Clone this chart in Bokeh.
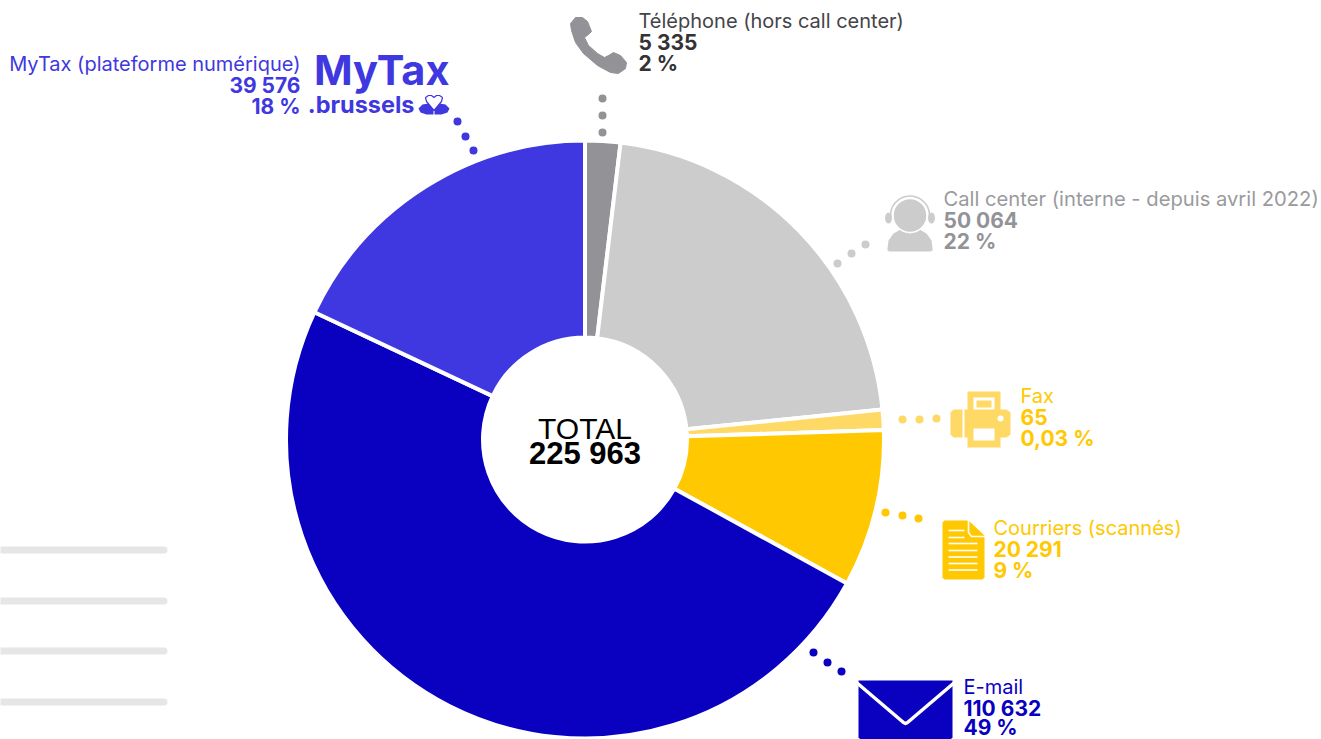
from math import pi
from bokeh.plotting import figure
from bokeh.models import Range1d, ColumnDataSource
from bokeh.core.properties import value
from bokeh.embed import file_html
from bokeh.resources import INLINE

# ---- data ----
categories = ["Téléphone (hors call center)", "Call center (interne - depuis avril 2022)", "Fax",
              "Courriers (scannés)", "E-mail", "MyTax (plateforme numérique)"]
count_labels = ["5 335", "50 064", "65", "20 291", "110 632", "39 576"]
pct_labels = ["2 %", "22 %", "0,03 %", "9 %", "49 %", "18 %"]
# share of the circle as drawn (%), clockwise from 12 o'clock; the Fax slice is drawn wider than its value
drawn_share = [1.9, 21.5, 1.1, 8.5, 49.0, 18.0]
slice_colors = ["#939397", "#CCCCCC", "#FFD966", "#FFC800", "#0A00BF", "#3F38E0"]
name_colors = ["#444448", "#9A9A9E", "#FFC800", "#FFC800", "#0A00BF", "#3F38E0"]
num_colors = ["#333336", "#939397", "#FFC800", "#FFC800", "#0A00BF", "#3F38E0"]
total_title = "TOTAL"
total_value = "225 963"

W, H = 1321, 739
CX, CY, R_OUT, R_IN = 584.5, 439.0, 299.0, 102.0
FONT = "Inter"

p = figure(width=W, height=H, x_range=Range1d(0, W), y_range=Range1d(H, 0),
           output_backend="svg", toolbar_location=None, min_border=0,
           margin=(0, 0, 0, 0), outline_line_color=None, background_fill_color="white")
p.axis.visible = False
p.grid.visible = False

# pale bars at the left
for yb in [549.5, 600.5, 650.5, 701.5]:
    p.line([-10, 163.5], [yb, yb], line_color="#E6E6E6", line_width=7, line_cap="round")

# donut
total = sum(drawn_share)
starts, ends, c = [], [], 0.0
for s in drawn_share:
    starts.append(pi / 2 - (c + s) / total * 2 * pi)
    ends.append(pi / 2 - c / total * 2 * pi)
    c += s
src = ColumnDataSource(dict(start=starts, end=ends, color=slice_colors))
p.annular_wedge(x=CX, y=CY, inner_radius=R_IN, outer_radius=R_OUT, start_angle="start", end_angle="end",
                fill_color="color", line_color="white", line_width=4, source=src, direction="anticlock")
p.circle(x=[CX], y=[CY], radius=R_IN + 1, fill_color="white", line_color=None)

# dotted connectors
dots = [([602, 602, 602], [98, 115, 132], "#939397"),
        ([865, 851, 837], [244, 253, 263], "#CCCCCC"),
        ([902, 919, 936], [419, 419, 418], "#FFD966"),
        ([885, 902, 918], [512, 515, 518], "#FFC800"),
        ([813, 827, 841], [652, 662, 671], "#0A00BF"),
        ([457, 465, 473], [121, 136, 150], "#3F38E0")]
for xs, ys, col in dots:
    p.scatter(xs, ys, size=8, marker="circle", fill_color=col, line_color=None)

# labels
def label(x, y, i, anchor, name_size="20px", d1=21.5, d2=42.5):
    p.text([x], [y], text=[categories[i]], text_font=value(FONT), text_font_size=name_size,
           text_color=name_colors[i], text_align=anchor, text_baseline="middle")
    p.text([x], [y + d1], text=[count_labels[i]], text_font=value(FONT), text_font_size="21px", text_font_style="bold",
           text_color=num_colors[i], text_align=anchor, text_baseline="middle")
    p.text([x], [y + d2], text=[pct_labels[i]], text_font=value(FONT), text_font_size="21px", text_font_style="bold",
           text_color=num_colors[i], text_align=anchor, text_baseline="middle")

label(638, 20, 0, "left")
label(943, 198, 1, "left", name_size="20.2px")
label(1020, 395, 2, "left")
label(993, 527, 3, "left")
label(963, 686.5, 4, "left", d1=21, d2=40.5)
label(300, 63, 5, "right")

# centre
p.text([CX], [428], text=[total_title], text_font=value("Liberation Sans"), text_font_size="30px",
       text_color="#000000", text_align="center", text_baseline="middle")
p.text([CX], [453], text=[total_value], text_font=value("Liberation Sans"), text_font_size="31px", text_font_style="bold",
       text_color="#000000", text_align="center", text_baseline="middle")

# MyTax logo
p.text([449], [69], text=["MyTax"], text_font=value(FONT), text_font_size="41.5px", text_font_style="bold",
       text_color="#3F38E0", text_align="right", text_baseline="middle")
p.text([414], [104], text=[".brussels"], text_font=value(FONT), text_font_size="23.5px", text_font_style="bold",
       text_color="#3F38E0", text_align="right", text_baseline="middle")
LC = "#3F38E0"
p.patch([418, 422, 428, 433, 433, 426, 420], [108, 104, 103, 107, 114, 114, 112], fill_color=LC, line_color=None)
p.patch([449, 445, 439, 434, 434, 441, 447], [108, 104, 103, 107, 114, 114, 112], fill_color=LC, line_color=None)
p.patch([433.5, 426, 425, 428, 431, 433.5, 436, 439, 442, 441],
        [110, 101, 97, 95, 95, 97, 95, 95, 97, 101], fill_color="white", line_color=LC, line_width=1.2)

# phone icon
p.patch([570, 575, 582, 587, 591, 588, 584, 588, 597, 604, 608, 613, 620, 626, 625, 618, 610, 597, 583, 575, 571],
        [23, 17, 17, 21, 31, 34, 37, 45, 53, 57, 55, 52, 55, 62, 68, 73, 72, 65, 53, 42, 30],
        fill_color="#939397", line_color="#939397", line_width=1, line_join="round")

# headset icon
GR = "#CCCCCC"
p.arc([909.5], [215], radius=19.5, start_angle=-pi * 0.05, end_angle=pi * 1.05, direction="anticlock",
      line_color=GR, line_width=1.6)
p.ellipse([888, 931], [217.5, 217.5], width=7, height=11, fill_color=GR, line_color=None)
p.patch([887, 888, 893, 900, 905, 909.5, 914, 919, 926, 931, 932, 932, 930, 889, 887],
        [248, 240, 233, 229, 232, 233, 232, 229, 233, 240, 248, 250, 251, 251, 250], fill_color=GR, line_color=None)
p.circle([909.5], [215], radius=17, fill_color=GR, line_color="white", line_width=1.5)

# printer icon
FX = "#FFD966"
p.patch([953, 962, 962, 953, 950, 950], [409, 409, 437, 437, 434, 412], fill_color=FX, line_color=None)
p.patch([964, 1006, 1010, 1010, 1006, 964], [409, 409, 412, 434, 437, 437], fill_color=FX, line_color=None)
p.quad(left=[967], right=[1000], top=[391], bottom=[411], fill_color=FX, line_color=None)
p.quad(left=[967], right=[1000], top=[425], bottom=[447], fill_color=FX, line_color=None)
p.quad(left=[973], right=[994], top=[397], bottom=[409], fill_color="white", line_color=None)
p.quad(left=[976], right=[991], top=[400], bottom=[407], fill_color=FX, line_color=None)
p.quad(left=[973], right=[994], top=[428], bottom=[440], fill_color="white", line_color=None)
p.scatter([1000], [418], size=6, marker="circle", fill_color="white", line_color=None)

# document icon
YL = "#FFC800"
p.patch([944, 968, 984, 984, 982, 944, 942, 942], [520, 520, 535, 577, 579, 579, 577, 522], fill_color=YL, line_color=None)
p.line([968, 968, 971, 985], [519, 532, 536, 536], line_color="white", line_width=1.6)
for yl, xr in zip([530, 537, 543, 550, 556.5, 563, 569.5], [964, 964, 977, 977, 977, 977, 977]):
    p.line([948, xr], [yl, yl], line_color="white", line_width=1.6)

# envelope icon
BL = "#0A00BF"
p.patch([858, 952, 952, 950, 860, 858], [680, 680, 737, 739, 739, 737], fill_color=BL, line_color=None)
p.line([856, 903, 905, 907, 954], [682, 722, 723, 722, 682], line_color="white", line_width=3.5, line_join="round")

open("out.html", "w").write(file_html(p, INLINE))
